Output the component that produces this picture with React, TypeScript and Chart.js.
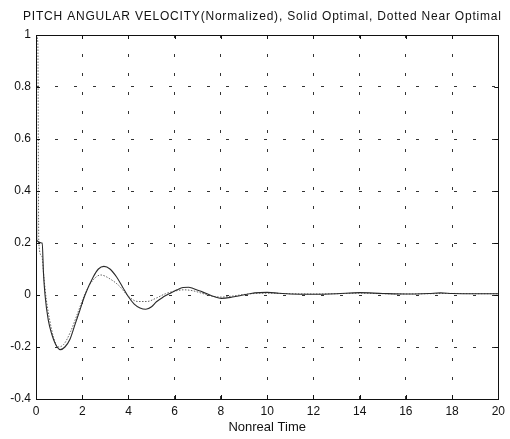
import React, { useEffect, useRef } from "react";
import { Chart, registerables } from "chart.js";

Chart.register(...registerables);

const titleText = "PITCH ANGULAR VELOCITY(Normalized), Solid Optimal, Dotted Near Optimal";
const xLabel = "Nonreal Time";

const solidT = [0, 0.03, 0.27, 0.32, 0.39, 0.53, 0.68, 0.85, 1.05, 1.25, 1.47, 1.7, 1.9, 2.12, 2.48, 2.7, 2.94, 3.2, 3.48, 3.75, 3.99, 4.25, 4.5, 4.75, 5.0, 5.21, 5.5, 5.79, 6.1, 6.36, 6.6, 6.8, 7.1, 7.37, 7.7, 8.02, 8.5, 8.96, 9.3, 9.68, 10, 10.5, 11, 12, 13, 14, 15, 16, 17, 17.5, 18, 19, 20];
const solidY = [1, 0.21, 0.2, 0.09, 0.0, -0.096, -0.15, -0.19, -0.21, -0.2, -0.17, -0.11, -0.058, 0.0, 0.07, 0.1, 0.11, 0.1, 0.07, 0.03, -0.006, -0.035, -0.05, -0.055, -0.045, -0.026, -0.008, 0.006, 0.02, 0.029, 0.03, 0.025, 0.015, 0.006, -0.006, -0.013, -0.008, 0.0, 0.006, 0.009, 0.01, 0.007, 0.004, 0.003, 0.005, 0.009, 0.006, 0.004, 0.006, 0.008, 0.006, 0.005, 0.005];

const dottedT = [0, 0.08, 0.12, 0.25, 0.35, 0.45, 0.6, 0.75, 0.95, 1.2, 1.5, 1.8, 2.1, 2.4, 2.8, 3.2, 3.6, 4.0, 4.4, 4.8, 5.2, 5.6, 6.0, 6.4, 6.8, 7.2, 7.6, 8.0, 8.5, 9.0, 9.5, 10, 11, 12, 13, 14, 15, 16, 17, 18, 19, 20];
const dottedY = [1, 0.97, 0.2, 0.15, 0.06, -0.02, -0.1, -0.16, -0.2, -0.19, -0.14, -0.07, 0.0, 0.05, 0.077, 0.062, 0.035, -0.005, -0.025, -0.025, -0.012, 0.005, 0.015, 0.02, 0.016, 0.006, -0.004, -0.008, -0.004, 0.002, 0.006, 0.007, 0.005, 0.004, 0.005, 0.007, 0.005, 0.004, 0.005, 0.006, 0.005, 0.005];

const xMin = 0, xMax = 20, xStep = 2;
const yMin = -0.4, yMax = 1, yStep = 0.2;

const FONT = "'Liberation Sans', Arial, sans-serif";

const framePlugin = {
  id: "frame",
  afterDatasetsDraw(chart: any) {
    const { ctx, chartArea: a, scales } = chart;
    ctx.save();
    ctx.strokeStyle = "#111";
    ctx.lineWidth = 1;
    ctx.setLineDash([]);
    ctx.strokeRect(Math.round(a.left) + 0.5, Math.round(a.top) + 0.5, Math.round(a.right - a.left), Math.round(a.bottom - a.top));
    const tl = 4;
    ctx.beginPath();
    scales.x.ticks.forEach((t: any) => {
      const px = Math.round(scales.x.getPixelForValue(t.value)) + 0.5;
      ctx.moveTo(px, a.bottom); ctx.lineTo(px, a.bottom - tl);
      ctx.moveTo(px, a.top); ctx.lineTo(px, a.top + tl);
    });
    scales.y.ticks.forEach((t: any) => {
      const py = Math.round(scales.y.getPixelForValue(t.value)) + 0.5;
      ctx.moveTo(a.left, py); ctx.lineTo(a.left + tl, py);
      ctx.moveTo(a.right, py); ctx.lineTo(a.right - tl, py);
    });
    ctx.stroke();
    // title
    ctx.fillStyle = "#111";
    ctx.font = `12px ${FONT}`;
    try { (ctx as any).letterSpacing = "0.8px"; } catch (e) {}
    ctx.textAlign = "left";
    ctx.textBaseline = "middle";
    ctx.fillText(titleText, 23, 16.5);
    try { (ctx as any).letterSpacing = "0px"; } catch (e) {}
    ctx.restore();
  },
};

export default function App() {
  const ref = useRef<HTMLCanvasElement>(null);
  useEffect(() => {
    if (!ref.current) return;
    const chart = new Chart(ref.current, {
      type: "line",
      data: {
        datasets: [
          {
            label: "Solid Optimal",
            data: solidT.map((t, i) => ({ x: t, y: solidY[i] })),
            borderColor: "#2a2a2a",
            borderWidth: 1.1,
            pointRadius: 0,
            cubicInterpolationMode: "monotone",
            fill: false,
          },
          {
            label: "Dotted Near Optimal",
            data: dottedT.map((t, i) => ({ x: t, y: dottedY[i] })),
            borderColor: "#666",
            borderWidth: 1,
            borderDash: [1.5, 1.5],
            pointRadius: 0,
            cubicInterpolationMode: "monotone",
            fill: false,
          },
        ],
      },
      options: {
        animation: false,
        responsive: false,
        layout: { padding: { left: 0, right: 11, top: 35, bottom: 0 } },
        plugins: {
          legend: { display: false },
          tooltip: { enabled: false },
          title: { display: false },
        },
        scales: {
          x: {
            type: "linear",
            min: xMin,
            max: xMax,
            ticks: {
              stepSize: xStep,
              color: "#111",
              font: { family: FONT, size: 12 },
              padding: 5,
              maxRotation: 0,
            },
            grid: {
              color: "#333",
              drawTicks: false,
            },
            border: { display: false, dash: [3, 16] },
            title: {
              display: true,
              text: xLabel,
              color: "#111",
              font: { family: FONT, size: 13, lineHeight: 1.2 },
              padding: { top: 0, bottom: 4.2 },
            },
            afterFit(scale: any) {
              scale.height = 40;
            },
          },
          y: {
            type: "linear",
            min: yMin,
            max: yMax,
            ticks: {
              stepSize: yStep,
              color: "#111",
              font: { family: FONT, size: 12 },
              padding: 5,
              callback: (v: any) => String(Number(Number(v).toFixed(1))),
            },
            grid: {
              color: "#333",
              drawTicks: false,
            },
            border: { display: false, dash: [3, 16] },
            afterFit(scale: any) {
              scale.width = 36;
            },
          },
        },
      },
      plugins: [framePlugin],
    });
    return () => chart.destroy();
  }, []);
  return (
    <div style={{ position: "fixed", left: 0, top: 0, width: 510, height: 439, background: "#fff" }}>
      <canvas ref={ref} width={510} height={439} style={{ display: "block" }} />
    </div>
  );
}
